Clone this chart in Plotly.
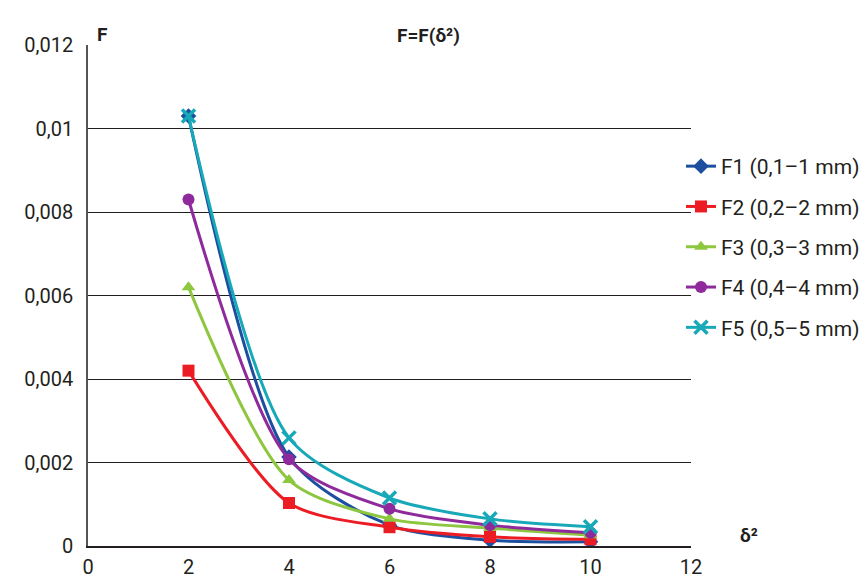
import plotly.graph_objects as go

x = [2, 4, 6, 8, 10]
f1 = [0.0103, 0.00213, 0.0005, 0.00014, 0.0001]
f2 = [0.0042, 0.00103, 0.00045, 0.00022, 0.00016]
f3 = [0.0062, 0.00158, 0.00065, 0.00043, 0.00026]
f4 = [0.0083, 0.00208, 0.00089, 0.0005, 0.00032]
f5 = [0.0103, 0.00259, 0.00115, 0.00065, 0.00046]
names = ["F1 (0,1–1 mm)", "F2 (0,2–2 mm)", "F3 (0,3–3 mm)", "F4 (0,4–4 mm)", "F5 (0,5–5 mm)"]
colors = ["#1c4fa0", "#ec1c24", "#8dc63f", "#8e2a9b", "#18a9b8"]
symbols = ["diamond", "square", "triangle-up", "circle", "x-thin"]
yticks = [0, 0.002, 0.004, 0.006, 0.008, 0.01, 0.012]
yticktext = ["0", "0,002", "0,004", "0,006", "0,008", "0,01", "0,012"]
xticks = [0, 2, 4, 6, 8, 10, 12]

font = "Roboto, sans-serif"
W, H = 864, 579
sl, sr, st, sb = 88, 691, 45, 546
l, t = sl, st
r = W - sr
b = H - sb

fig = go.Figure()
for i, ys in enumerate([f1, f2, f3, f4, f5]):
    sym = symbols[i]
    fig.add_trace(go.Scatter(
        x=x, y=ys, name=names[i], mode="lines+markers",
        legendgroup=str(i),
        line=dict(color=colors[i], width=3, shape="spline", smoothing=0.8),
        marker=dict(symbol=sym, size=12 if sym != "x-thin" else 13, color=colors[i],
                    line=dict(color=colors[i], width=3.5 if sym == "x-thin" else 0)),
    ))

pw, ph = sr - sl, sb - st
def px(xp, yp):
    return (xp - sl) / pw, (sb - yp) / ph
ann = []
for text, xp, yp in [("<b>F=F(δ²)</b>", 428, 22), ("<b>F</b>", 95, 21), ("<b>δ²</b>", 760, 549)]:
    ax, ay = px(xp, yp)
    ann.append(dict(text=text, x=ax, y=ay, xref="paper", yref="paper", showarrow=False,
                    font=dict(size=19)))

fig.update_layout(
    width=W, height=H,
    margin=dict(l=l, r=r, t=t, b=b, autoexpand=False),
    paper_bgcolor="white", plot_bgcolor="white",
    font=dict(family=font, size=20, color="#231f20"),
    showlegend=True,
    legend=dict(x=681 / W, xref="container", xanchor="left",
                y=1 - 146 / H, yref="container",
                yanchor="top", font=dict(size=21),
                tracegroupgap=10, itemwidth=30, bgcolor="rgba(0,0,0,0)"),
    xaxis=dict(range=[0, 12], tickvals=xticks, ticktext=[str(v) for v in xticks],
               showgrid=False, zeroline=False, showline=True, linecolor="#231f20", linewidth=1.5,
               ticks="", tickfont=dict(size=20), ticklabelstandoff=2, automargin=False),
    yaxis=dict(range=[0, 0.012], tickvals=yticks, ticktext=yticktext,
               showgrid=True, gridcolor="#231f20", gridwidth=1,
               zeroline=False, showline=True, linecolor="#555555", linewidth=1.5,
               ticks="", tickfont=dict(size=20), ticklabelstandoff=9, automargin=False),
    annotations=ann,
)
fig.write_html("out.html", config={"displayModeBar": False},
               post_script="document.body.style.margin='0';document.body.style.overflow='hidden';")
